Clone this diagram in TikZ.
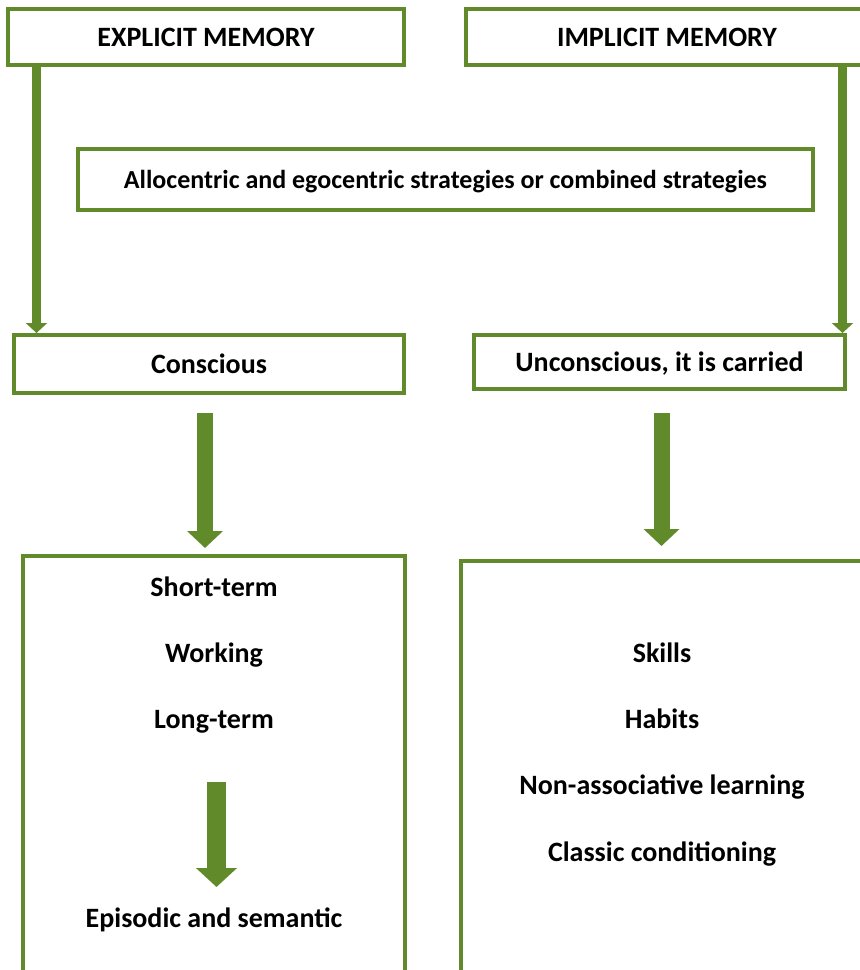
\documentclass[tikz,border=0pt]{standalone}
\usepackage{fontspec}
\setmainfont{Carlito}
\usetikzlibrary{arrows.meta,positioning}
\definecolor{verde}{HTML}{618B2B}
\tikzset{
  caja/.style={draw=verde,line width=4pt,fill=white,inner sep=0pt,
    text height=18pt,text depth=0pt,font=\bfseries\fontsize{28}{33}\selectfont},
  rotulo/.style={inner sep=0pt,text height=18pt,text depth=0pt,
    font=\bfseries\fontsize{28}{33}\selectfont},
  flechina/.style={verde,line width=8.5pt,-{Triangle[length=10pt,width=21pt]}},
  flechota/.style={verde,line width=16pt,-{Triangle[length=17pt,width=35pt]}},
  flechon/.style={verde,line width=19pt,-{Triangle[length=19pt,width=40pt]}},
}

\begin{document}
\begin{tikzpicture}[x=1pt,y=-1pt]
    \useasboundingbox (0,0) rectangle (860,970);
    \clip (0,0) rectangle (860,970);
    % --- columnas de las flechas ---
    \coordinate (xa) at (36.5,0);  \coordinate (xb) at (842.5,0);
    \coordinate (xc) at (205,0);   \coordinate (xd) at (661.5,0);
    \coordinate (xe) at (216.5,0);
    % --- cajas superiores ---
    \node[caja,minimum width=396pt,minimum height=56pt] (expl) at (206,37) {EXPLICIT MEMORY};
    \node[caja,minimum width=402pt,minimum height=56pt] (impl) at (667,37) {IMPLICIT MEMORY};
    \node[caja,minimum width=735pt,minimum height=61pt,font=\bfseries\fontsize{26}{31}\selectfont]
          (estr) at (445.5,179.5) {Allocentric and egocentric strategies or combined strategies};
    % --- segundo nivel ---
    \node[caja,minimum width=390pt,minimum height=58pt] (cons) at (209,364) {Conscious};
    \node[caja,minimum width=371pt,minimum height=54pt] (unc) at (659.5,362) {Unconscious, it is carried};
    % --- cajas inferiores (cortadas por el borde) ---
    \node[caja,minimum width=382pt,minimum height=460pt] (lbox) at (214,786) {};
    \node[caja,minimum width=402pt,minimum height=460pt] (rbox) at (662,791) {};
    % --- contenido izquierda ---
    \node[rotulo] (st) at (214,587) {Short-term};
    \node[rotulo,below=48pt of st] (wk) {Working};
    \node[rotulo,below=48pt of wk] (lt) {Long-term};
    \node[rotulo,below=180pt of lt] (eps) {Episodic and semantic};
    % --- contenido derecha ---
    \node[rotulo] (sk) at (662,653) {Skills};
    \node[rotulo,below=48pt of sk] (hb) {Habits};
    \node[rotulo,below=48pt of hb] (na) {Non-associative learning};
    \node[rotulo,below=48pt of na] (cc) {Classic conditioning};
    % --- flechas finas ---
    \draw[flechina] (expl.south -| xa) -- (cons.north -| xa);
    \draw[flechina] (impl.south -| xb) -- (unc.north -| xb);
    % --- flechas gruesas ---
    \draw[flechota,shorten <=18pt,shorten >=6pt] (cons.south -| xc) -- (lbox.north -| xc);
    \draw[flechota,shorten <=22pt,shorten >=13pt] (unc.south -| xd) -- (rbox.north -| xd);
    \draw[flechon,shorten <=53pt,shorten >=22pt] (lt.south -| xe) -- (eps.north -| xe);
\end{tikzpicture}
\end{document}
